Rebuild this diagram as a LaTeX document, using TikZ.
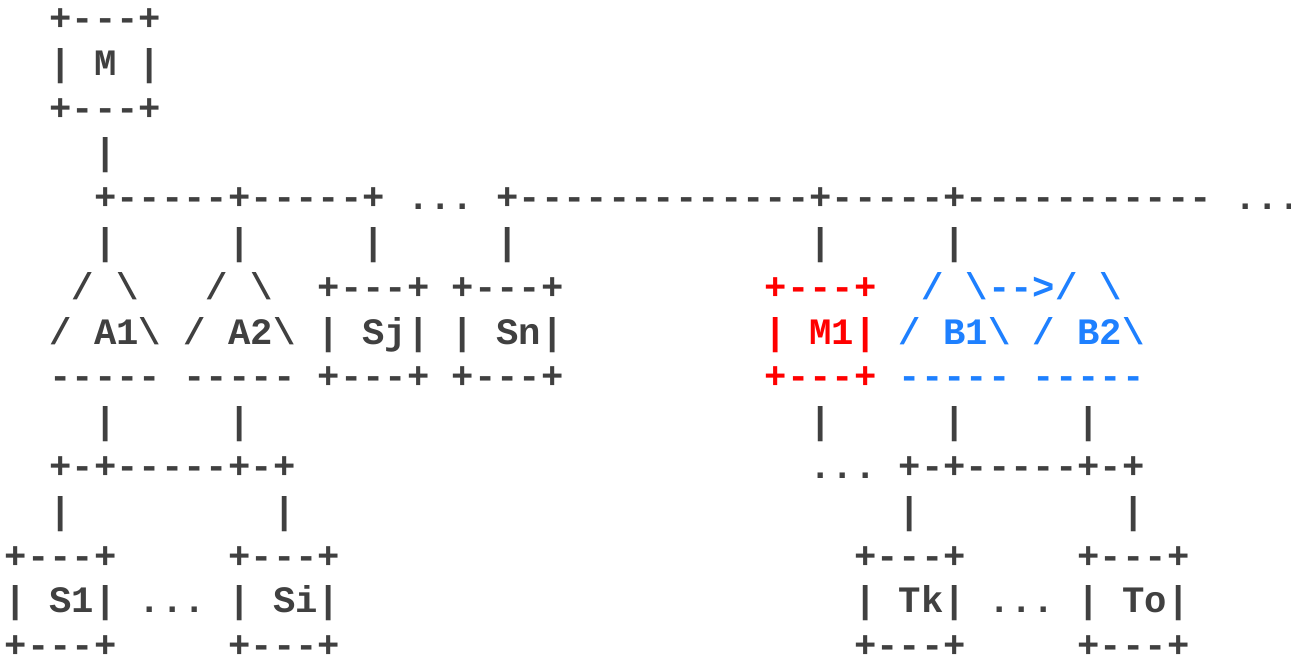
\documentclass[tikz,border=0pt]{standalone}
\usepackage{fontspec}
\setmonofont{Liberation Mono}
\definecolor{ink}{HTML}{404040}
\definecolor{redink}{HTML}{FF0000}
\definecolor{blueink}{HTML}{1E80FF}
\newcommand{\bs}{\textbackslash}

\begin{document}
\begin{tikzpicture}[x=16.7625pt, y=-33.6pt,
    ascii/.style={anchor=base west, inner sep=0pt, outer sep=0pt, text=ink,
      font=\ttfamily\bfseries\fontsize{27.94pt}{33.6pt}\selectfont},
    redbox/.style={ascii, text=redink},
    bluetree/.style={ascii, text=blueink}]
            \useasboundingbox (-0.215,-0.681) rectangle (57.548,13.940);
            \fill[white] (-0.215,-0.681) rectangle (57.548,13.940);
            \clip (-0.215,-0.681) rectangle (57.548,13.940);

            % M box and the bus
            \node[ascii] (Mtop) at (2,0) {+---+};
            \node[ascii] (Mleft) at (2,1) {|};
            \node[ascii] (M) at (4,1) {M};
            \node[ascii] (Mright) at (6,1) {|};
            \node[ascii] (Mbot) at (2,2) {+---+};
            \node[ascii] (Mstem) at (4,3) {|};
            \node[ascii] (busA) at (4,4) {+-----+-----+};
            \node[ascii] (busdotsA) at (18,4) {...};
            \node[ascii] (busB) at (22,4) {+-------------+-----+-----------};
            \node[ascii] (busdotsB) at (55,4) {...};

            \node[ascii] (dropA1) at (4,5) {|};
            \node[ascii] (dropA2) at (10,5) {|};
            \node[ascii] (dropSj) at (16,5) {|};
            \node[ascii] (dropSn) at (22,5) {|};
            \node[ascii] (dropM1) at (36,5) {|};
            \node[ascii] (dropB1) at (42,5) {|};

            % A1, A2, Sj, Sn
            \node[ascii] (A1tl) at (3,6) {/};
            \node[ascii] (A1tr) at (5,6) {\bs};
            \node[ascii] (A2tl) at (9,6) {/};
            \node[ascii] (A2tr) at (11,6) {\bs};
            \node[ascii] (Sjtop) at (14,6) {+---+};
            \node[ascii] (Sntop) at (20,6) {+---+};
            \node[ascii] (A1bl) at (2,7) {/};
            \node[ascii] (A1) at (4,7) {A1\bs};
            \node[ascii] (A2bl) at (8,7) {/};
            \node[ascii] (A2) at (10,7) {A2\bs};
            \node[ascii] (Sjleft) at (14,7) {|};
            \node[ascii] (Sj) at (16,7) {Sj|};
            \node[ascii] (Snleft) at (20,7) {|};
            \node[ascii] (Sn) at (22,7) {Sn|};
            \node[ascii] (A1base) at (2,8) {-----};
            \node[ascii] (A2base) at (8,8) {-----};
            \node[ascii] (Sjbot) at (14,8) {+---+};
            \node[ascii] (Snbot) at (20,8) {+---+};

            % M1 (red), B1 and B2 (blue)
            \node[redbox] (M1top) at (34,6) {+---+};
            \node[redbox] (M1left) at (34,7) {|};
            \node[redbox] (M1) at (36,7) {M1|};
            \node[redbox] (M1bot) at (34,8) {+---+};
            \node[bluetree] (B1tl) at (41,6) {/};
            \node[bluetree] (B1arrow) at (43,6) {\bs-->/};
            \node[bluetree] (B2tr) at (49,6) {\bs};
            \node[bluetree] (B1bl) at (40,7) {/};
            \node[bluetree] (B1) at (42,7) {B1\bs};
            \node[bluetree] (B2bl) at (46,7) {/};
            \node[bluetree] (B2) at (48,7) {B2\bs};
            \node[bluetree] (B1base) at (40,8) {-----};
            \node[bluetree] (B2base) at (46,8) {-----};

            \node[ascii] (stemA1) at (4,9) {|};
            \node[ascii] (stemA2) at (10,9) {|};
            \node[ascii] (stemM1) at (36,9) {|};
            \node[ascii] (stemB1) at (42,9) {|};
            \node[ascii] (stemB2) at (48,9) {|};

            % leaves under A and B
            \node[ascii] (leafbusA) at (2,10) {+-+-----+-+};
            \node[ascii] (M1dots) at (36,10) {...};
            \node[ascii] (leafbusB) at (40,10) {+-+-----+-+};
            \node[ascii] (dropS1) at (2,11) {|};
            \node[ascii] (dropSi) at (12,11) {|};
            \node[ascii] (dropTk) at (40,11) {|};
            \node[ascii] (dropTo) at (50,11) {|};

            \node[ascii] (S1top) at (0,12) {+---+};
            \node[ascii] (Sitop) at (10,12) {+---+};
            \node[ascii] (Tktop) at (38,12) {+---+};
            \node[ascii] (Totop) at (48,12) {+---+};
            \node[ascii] (S1left) at (0,13) {|};
            \node[ascii] (S1) at (2,13) {S1|};
            \node[ascii] (Sdots) at (6,13) {...};
            \node[ascii] (Sileft) at (10,13) {|};
            \node[ascii] (Si) at (12,13) {Si|};
            \node[ascii] (Tkleft) at (38,13) {|};
            \node[ascii] (Tk) at (40,13) {Tk|};
            \node[ascii] (Tdots) at (44,13) {...};
            \node[ascii] (Toleft) at (48,13) {|};
            \node[ascii] (To) at (50,13) {To|};
            \node[ascii] (S1bot) at (0,14) {+---+};
            \node[ascii] (Sibot) at (10,14) {+---+};
            \node[ascii] (Tkbot) at (38,14) {+---+};
            \node[ascii] (Tobot) at (48,14) {+---+};
        \end{tikzpicture}
\end{document}
